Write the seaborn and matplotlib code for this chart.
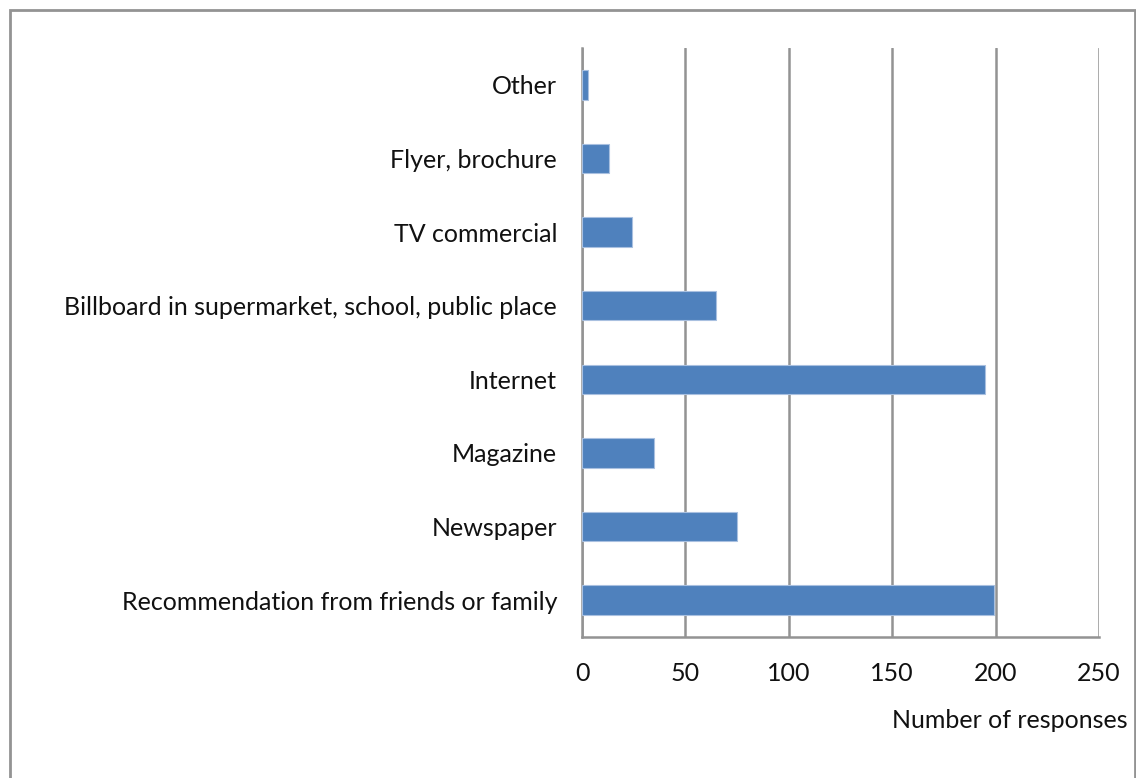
import matplotlib
matplotlib.use("Agg")
import matplotlib.pyplot as plt
from matplotlib.patches import Rectangle
import pandas as pd
import seaborn as sns

categories = [
    "Other",
    "Flyer, brochure",
    "TV commercial",
    "Billboard in supermarket, school, public place",
    "Internet",
    "Magazine",
    "Newspaper",
    "Recommendation from friends or family",
]
responses = [3, 13, 24, 65, 195, 35, 75, 199]
x_ticks = [0, 50, 100, 150, 200, 250]

sns.set_theme(style="white")
plt.rcParams["font.family"] = ["Lato", "DejaVu Sans"]

df = pd.DataFrame({"source": categories, "count": responses})

W, H = 1136, 778
FS = 18
fig = plt.figure(figsize=(W / 100, H / 100), dpi=100)
fig.patch.set_facecolor("white")

# outer chart border
fig.add_artist(Rectangle((10 / W, -0.05), 1125 / W, 1 - 10 / H + 0.05,
                         transform=fig.transFigure, fill=False,
                         edgecolor="#939393", linewidth=2.0))

ax = fig.add_axes([582 / W, 1 - 637 / H, (1099 - 582) / W, (637 - 48) / H])
sns.barplot(data=df, y="source", x="count", order=categories, orient="h",
            color="#4F81BD", width=0.4, saturation=1, ax=ax,
            edgecolor="#a9c0e0", linewidth=0.8, zorder=3)

ax.set_xlim(0, 250)
ax.set_xticks(x_ticks)
ax.set_xticklabels([str(t) for t in x_ticks])
ax.set_ylim(len(categories) - 0.5, -0.5)

ax.grid(axis="x", color="#939393", linewidth=1.8, zorder=0)
ax.grid(axis="y", visible=False)
ax.set_axisbelow(True)

for side in ["top", "right"]:
    ax.spines[side].set_visible(False)
for side in ["left", "bottom"]:
    ax.spines[side].set_color("#939393")
    ax.spines[side].set_linewidth(1.8)

ax.tick_params(axis="x", length=0, pad=18, labelsize=FS, labelcolor="#111111")
ax.tick_params(axis="y", length=0, pad=18, labelsize=FS, labelcolor="#111111")

ax.set_ylabel("")
ax.set_xlabel("Number of responses", fontsize=FS, color="#111111")
ax.xaxis.set_label_coords(1.055, -0.123)
ax.xaxis.label.set_horizontalalignment("right")

fig.savefig("out.png", dpi=100, facecolor="white")
